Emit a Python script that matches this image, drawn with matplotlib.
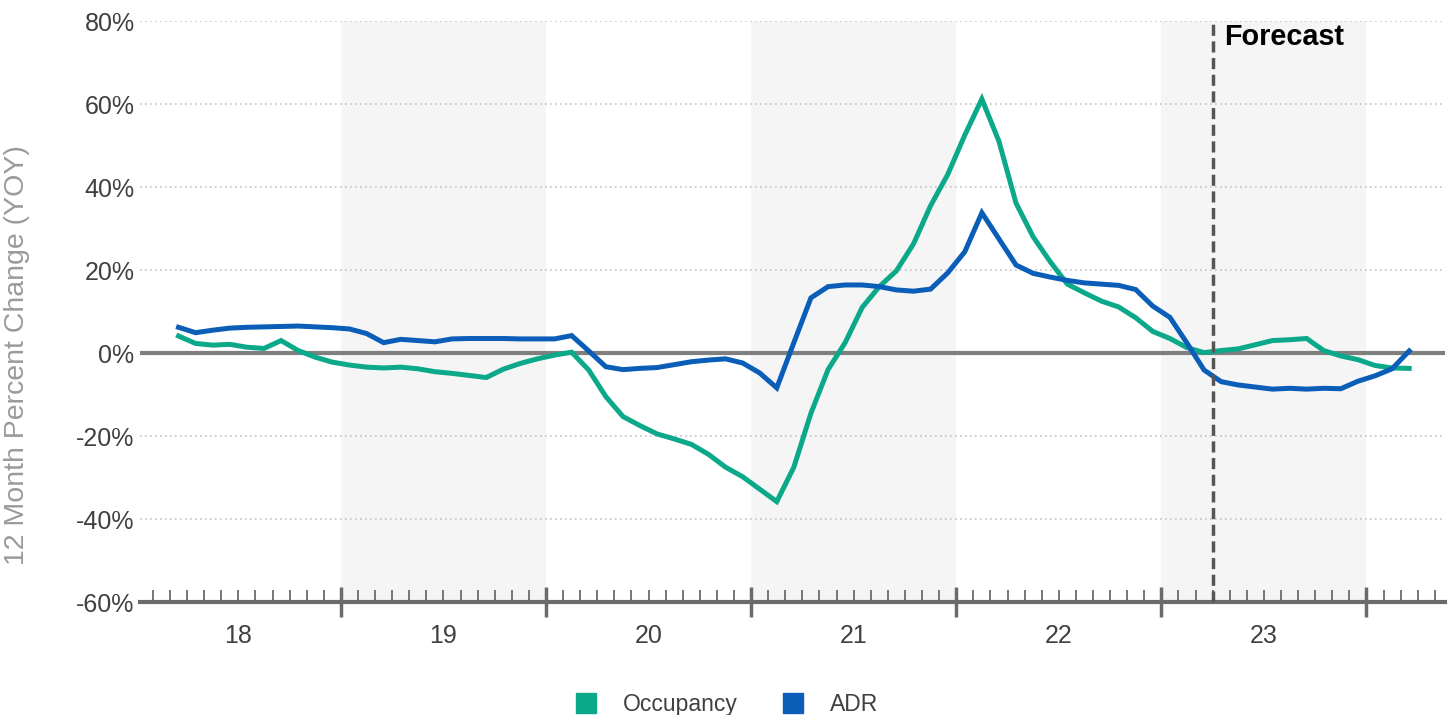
import matplotlib.pyplot as plt
import numpy as np
from matplotlib.lines import Line2D

plt.rcParams['font.family'] = ['Liberation Sans', 'DejaVu Sans']

# year labels (2018 .. 2023), data is monthly starting March 2018
years = ['18', '19', '20', '21', '22', '23']
first_month = 2          # months after Jan 2018 -> March 2018
forecast_month = 63      # forecast starts April 2023

occupancy = [4.1, 2.3, 1.9, 2.1, 1.4, 1.1, 3.0, 0.6, -1.0, -2.2,
             -2.9, -3.4, -3.6, -3.4, -3.8, -4.5, -4.9, -5.4, -5.9, -3.9, -2.5, -1.4,
             -0.5, 0.2, -4.1, -10.5, -15.3, -17.5, -19.5, -20.7, -22.0, -24.4, -27.5, -29.8,
             -32.8, -35.8, -27.5, -14.5, -4.0, 2.5, 11.0, 16.0, 19.8, 26.3, 35.5, 43.0,
             52.5, 61.2, 51.0, 36.1, 28.0, 22.0, 16.6, 14.5, 12.5, 11.1, 8.5, 5.2,
             3.5, 1.3, 0.1, 0.6, 1.0, 2.0, 3.0, 3.2, 3.5, 0.6, -0.7, -1.6,
             -3.0, -3.6, -3.7]

adr = [6.2, 4.9, 5.5, 6.0, 6.2, 6.3, 6.4, 6.5, 6.3, 6.1,
       5.8, 4.7, 2.5, 3.3, 3.0, 2.7, 3.4, 3.5, 3.5, 3.5, 3.4, 3.4,
       3.4, 4.2, 0.5, -3.3, -4.0, -3.7, -3.5, -2.8, -2.1, -1.7, -1.4, -2.4,
       -4.8, -8.4, 2.5, 13.3, 16.0, 16.4, 16.4, 16.0, 15.2, 14.9, 15.4, 19.3,
       24.4, 33.8, 27.5, 21.2, 19.2, 18.3, 17.5, 16.9, 16.6, 16.3, 15.3, 11.3,
       8.6, 2.4, -4.1, -6.9, -7.7, -8.2, -8.7, -8.5, -8.7, -8.5, -8.6, -6.8,
       -5.5, -3.8, 0.5]

green = '#0BA88A'
blue = '#0A5EB7'

x = np.arange(first_month, first_month + len(occupancy)) + 0.5

fig = plt.figure(figsize=(14.5, 7.15), dpi=100)
ax = fig.add_axes([0.0966, 0.158, 0.9000, 0.8126])

# shaded alternate years
for i in range(1, len(years), 2):
    ax.axvspan(i * 12, (i + 1) * 12, color='#f5f5f5', zorder=0, lw=0)

# dotted grid
for v in [-40, -20, 20, 40, 60, 80]:
    ax.axhline(v, color='#c4c4c4', lw=1.2, ls=(0, (1, 2)), zorder=1)
ax.axhline(0, color='#7f7f7f', lw=3, zorder=2)

ax.plot(x, occupancy, color=green, lw=3.6, zorder=4, solid_joinstyle='miter')
ax.plot(x, adr, color=blue, lw=3.6, zorder=5, solid_joinstyle='miter')

# forecast marker
ax.axvline(forecast_month, color='#555555', lw=2.5, ls=(0, (3.2, 1.6)), zorder=6)
ax.text(forecast_month + 0.65, 79.5, 'Forecast', fontsize=20.7, fontweight='bold',
        color='black', va='top', ha='left')

ax.set_xlim(0.25, 76.6)
ax.set_ylim(-60, 80)

ax.set_yticks(range(-60, 81, 20))
ax.set_yticklabels([f'{v}%' for v in range(-60, 81, 20)])
ax.tick_params(axis='y', length=0, labelsize=18, labelcolor='#404040', pad=4)

ax.set_xticks(range(12, 73, 12))
ax.set_xticklabels([])
ax.set_xticks([m for m in range(1, 77) if m % 12 != 0], minor=True)
ax.tick_params(axis='x', which='major', direction='inout', length=22, width=2.5, color='#6b6b6b')
ax.tick_params(axis='x', which='minor', direction='in', length=9, width=1.3, color='#6b6b6b')

for i, yr in enumerate(years):
    ax.text(i * 12 + 6, -0.037, yr, transform=ax.get_xaxis_transform(),
            ha='center', va='top', fontsize=18, color='#404040')

for s in ['top', 'right', 'left']:
    ax.spines[s].set_visible(False)
ax.spines['bottom'].set_color('#6b6b6b')
ax.spines['bottom'].set_linewidth(3)

fig.text(0.012, 0.503, '12 Month Percent Change (YOY)', rotation=90, fontsize=20.5,
         color='#9a9a9a', ha='center', va='center')

handles = [Line2D([], [], marker='s', ls='', color=green, markersize=14),
           Line2D([], [], marker='s', ls='', color=blue, markersize=14)]
fig.legend(handles, ['Occupancy', 'ADR'], loc='lower center', bbox_to_anchor=(0.497, -0.03),
           ncol=2, frameon=False, fontsize=16.5, handletextpad=0.6, columnspacing=1.4,
           labelcolor='#404040')

fig.savefig('out.png', dpi=100)
